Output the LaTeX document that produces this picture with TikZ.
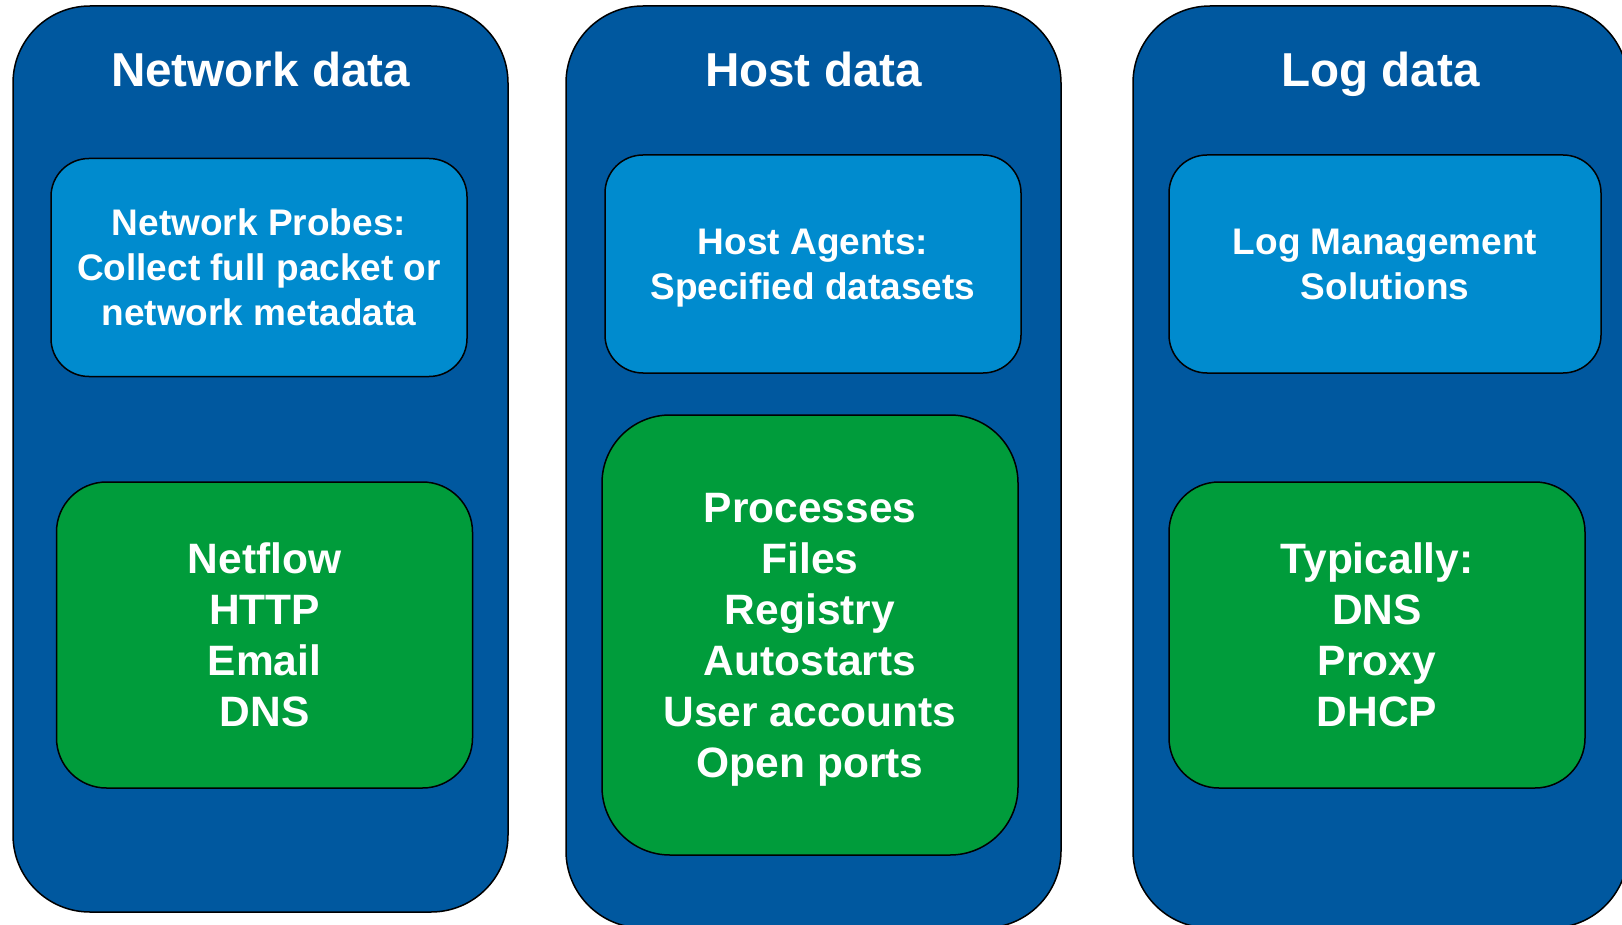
\documentclass[tikz,border=0pt]{standalone}
\usepackage{fontspec}
\setmainfont{Liberation Sans}
\definecolor{colblue}{RGB}{0,88,159}
\definecolor{probeblue}{RGB}{0,139,206}
\definecolor{itemgreen}{RGB}{0,156,59}
\tikzset{
  column/.style={draw=black, line width=1.5pt, fill=colblue, rounded corners=77pt,
    minimum width=495pt, inner sep=0pt},
  title/.style={text=white, anchor=base, inner sep=0pt,
    font=\fontsize{47.6}{56}\selectfont\bfseries},
  probe/.style={draw=black, line width=1.5pt, fill=probeblue, rounded corners=38pt,
    text=white, align=center, inner sep=0pt, minimum height=218pt, text depth=0pt,
    font=\fontsize{37}{45}\selectfont\bfseries},
  items/.style={draw=black, line width=1.5pt, fill=itemgreen, rounded corners=50pt,
    text=white, align=center, inner sep=0pt, minimum width=416pt, text depth=0pt,
    font=\fontsize{42.5}{51}\selectfont\bfseries},
}
\begin{document}
\begin{tikzpicture}[x=1pt,y=-1pt]
\useasboundingbox (0,0) rectangle (1622,925);

% three columns
\node[column, minimum height=906pt] (netcol) at (260.5,459) {};
\node[column, minimum height=922pt] (hostcol) at (813.5,467) {};
\node[column, minimum height=922pt] (logcol) at (1380.5,467) {};

% column titles, sharing one baseline
\node[title] (nettitle) at (260.5,87) {Network data};
\node[title] (hosttitle) at (813.5,87) {Host data};
\node[title] (logtitle) at (1380.5,87) {Log data};

% collection sources
\node[probe, minimum width=416pt] (netprobe) at (259,267.5)
  {Network Probes:\\Collect full packet or\\network metadata};
\node[probe, minimum width=416pt] (hostprobe) at (813,264)
  {Host Agents:\\Specified datasets};
\node[probe, minimum width=432pt] (logprobe) at (1385,264)
  {Log Management\\Solutions};

% data types
\node[items, minimum height=306pt] (netitems) at (264.5,635)
  {Netflow\\HTTP\\Email\\DNS};
\node[items, minimum height=440pt, rounded corners=68pt] (hostitems) at (810,635)
  {Processes\\Files\\Registry\\Autostarts\\User accounts\\Open ports};
\node[items, minimum height=306pt] (logitems) at (1377,635)
  {Typically:\\DNS\\Proxy\\DHCP};
\end{tikzpicture}
\end{document}
